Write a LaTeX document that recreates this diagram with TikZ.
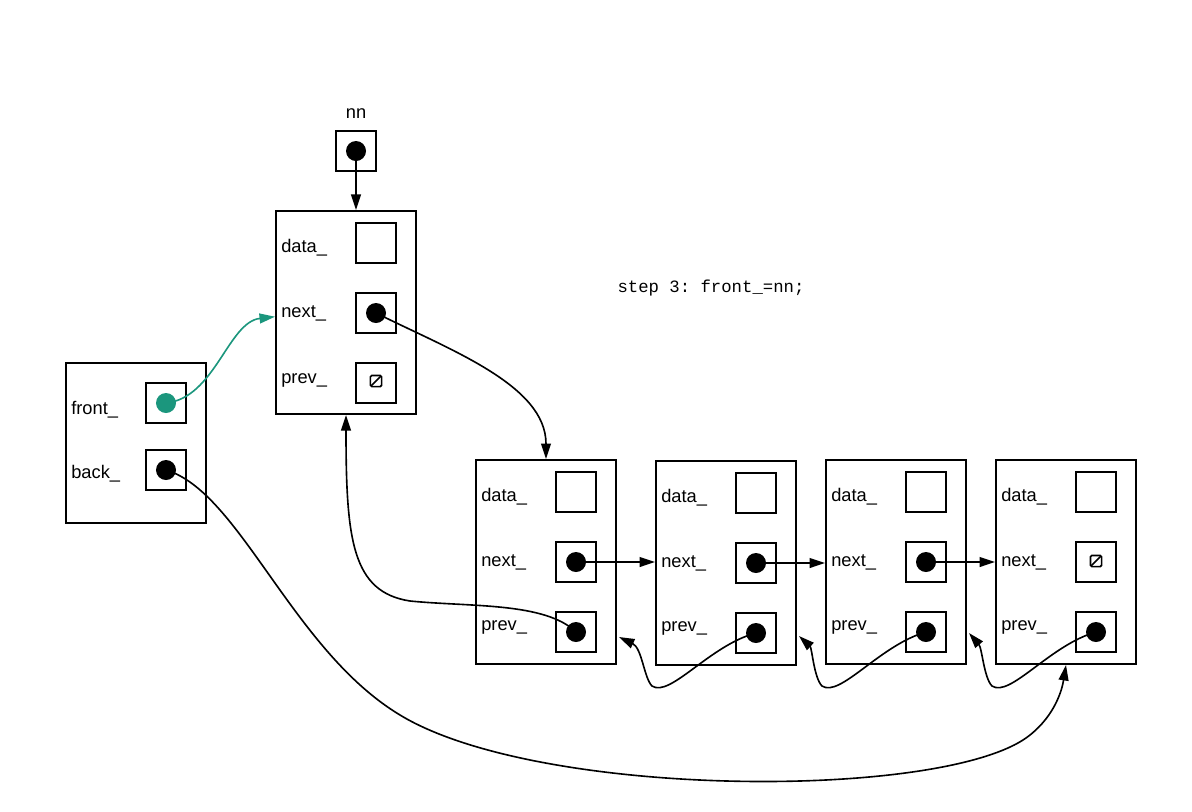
\documentclass[tikz,border=0pt]{standalone}
\usepackage{fontspec}
\setmainfont{Liberation Sans}
\setmonofont{Liberation Mono}
\usetikzlibrary{arrows.meta,calc}
\definecolor{tealptr}{RGB}{27,150,125}
\tikzset{
  listnode/.style={draw, line width=1.4pt, minimum width=3.5cm, minimum height=5.1cm},
  headnode/.style={draw, line width=1.4pt, minimum width=3.5cm, minimum height=4cm},
  field/.style={draw, line width=1.4pt, minimum size=1cm},
  ptr/.style={circle, fill, inner sep=0pt, minimum size=0.5cm},
  nullptr/.style={draw, line width=1.2pt, rounded corners=1pt, minimum size=0.28cm, inner sep=0pt,
    path picture={\draw[line width=1.2pt] (path picture bounding box.south west) -- (path picture bounding box.north east);}},
  lbl/.style={anchor=west, inner xsep=0pt, font=\fontsize{13}{15}\selectfont},
  link/.style={line width=1.15pt, -{Triangle[length=11pt,width=7pt]}}
}
\begin{document}
\begin{tikzpicture}[x=0.025cm, y=-0.025cm]
\useasboundingbox (0,0) rectangle (1192,811);
% Pointer nn
\node[font=\fontsize{13}{15}\selectfont] (nnlbl) at (356,114) {nn};
\node[field] (nnbox) at (356,151) {};
\node[ptr] (nnp) at (356,151) {};
% New node
\node[listnode, minimum height=5.08cm] (top) at (346,312.5) {};
\node[lbl] (topd) at (281,248) {data\_};
\node[lbl] (topn) at (281,313) {next\_};
\node[lbl] (topp) at (281,380) {prev\_};
\node[field] (topdata) at (376,243) {};
\node[field] (topnext) at (376,313) {};
\node[ptr] (topnp) at (376,313) {};
\node[field] (topprev) at (376,383) {};
\node[nullptr] (topnull) at (376,381) {};
% List head
\node[headnode] (head) at (136,443) {};
\node[lbl] (frontlbl) at (71,410) {front\_};
\node[lbl] (backlbl) at (71,474) {back\_};
\node[field] (frontbox) at (166,403) {};
\node[ptr, fill=tealptr] (frontp) at (166,403) {};
\node[field] (backbox) at (166,470) {};
\node[ptr] (backp) at (166,470) {};
% List nodes
\node[listnode] (la) at (546,562) {};
\node[lbl] at (481,497) {data\_};
\node[lbl] at (481,562) {next\_};
\node[lbl] at (481,627) {prev\_};
\node[field] (lad) at (576,492) {};
\node[field] (lan) at (576,562) {};
\node[ptr] (lanp) at (576,562) {};
\node[field] (lap) at (576,632) {};
\node[ptr] (lapp) at (576,632) {};
\node[listnode] (lb) at (726,563) {};
\node[lbl] at (661,498) {data\_};
\node[lbl] at (661,563) {next\_};
\node[lbl] at (661,628) {prev\_};
\node[field] (lbd) at (756,493) {};
\node[field] (lbn) at (756,563) {};
\node[ptr] (lbnp) at (756,563) {};
\node[field] (lbp) at (756,633) {};
\node[ptr] (lbpp) at (756,633) {};
\node[listnode] (lc) at (896,562) {};
\node[lbl] at (831,497) {data\_};
\node[lbl] at (831,562) {next\_};
\node[lbl] at (831,627) {prev\_};
\node[field] (lcd) at (926,492) {};
\node[field] (lcn) at (926,562) {};
\node[ptr] (lcnp) at (926,562) {};
\node[field] (lcp) at (926,632) {};
\node[ptr] (lcpp) at (926,632) {};
\node[listnode] (ld) at (1066,562) {};
\node[lbl] at (1001,497) {data\_};
\node[lbl] at (1001,562) {next\_};
\node[lbl] at (1001,627) {prev\_};
\node[field] (ldd) at (1096,492) {};
\node[field] (ldn) at (1096,562) {};
\node[nullptr] (ldnull) at (1096,561) {};
\node[field] (ldp) at (1096,632) {};
\node[ptr] (ldpp) at (1096,632) {};
% Caption
\node[font=\ttfamily\fontsize{12.3}{14}\selectfont] (step) at (711,288) {step 3: front\_=nn;};
% Pointers of the new node
\draw[link] (nnp.center) -- (nnp.center |- top.north);
\draw[link] (topnp.center) .. controls (450,350) and (546,385) .. (la.north);
\draw[link, tealptr] (frontp.center) .. controls (215,398) and (228,322) .. ([yshift=-3]top.west);
% next_ pointers
\draw[link] (lanp.center) -- (lanp.center -| lb.west);
\draw[link] (lbnp.center) -- (lbnp.center -| lc.west);
\draw[link] (lcnp.center) -- (lcnp.center -| ld.west);
% prev_ pointers
\draw[link] (lapp.center) .. controls (545,602) and (470,607) .. (410,601) .. controls (352,592) and (346,540) .. (top.south);
\draw[link] (lbpp.center) .. controls (710,645) and (670,698) .. (652,686) .. controls (644,678) and (642,648) .. ([shift={(2,-28)}]la.south east);
\draw[link] (lcpp.center) .. controls (880,645) and (840,698) .. (822,686) .. controls (814,678) and (812,648) .. ([shift={(2,-30)}]lb.south east);
\draw[link] (ldpp.center) .. controls (1050,645) and (1010,698) .. (992,686) .. controls (984,678) and (982,648) .. ([shift={(2,-32)}]lc.south east);
% back_ pointer
\draw[link] (backp.center) .. controls (240,492) and (292,650) .. (400,715) .. controls (540,800) and (950,800) .. (1030,735) .. controls (1055,715) and (1062,690) .. (ld.south);
\end{tikzpicture}
\end{document}
